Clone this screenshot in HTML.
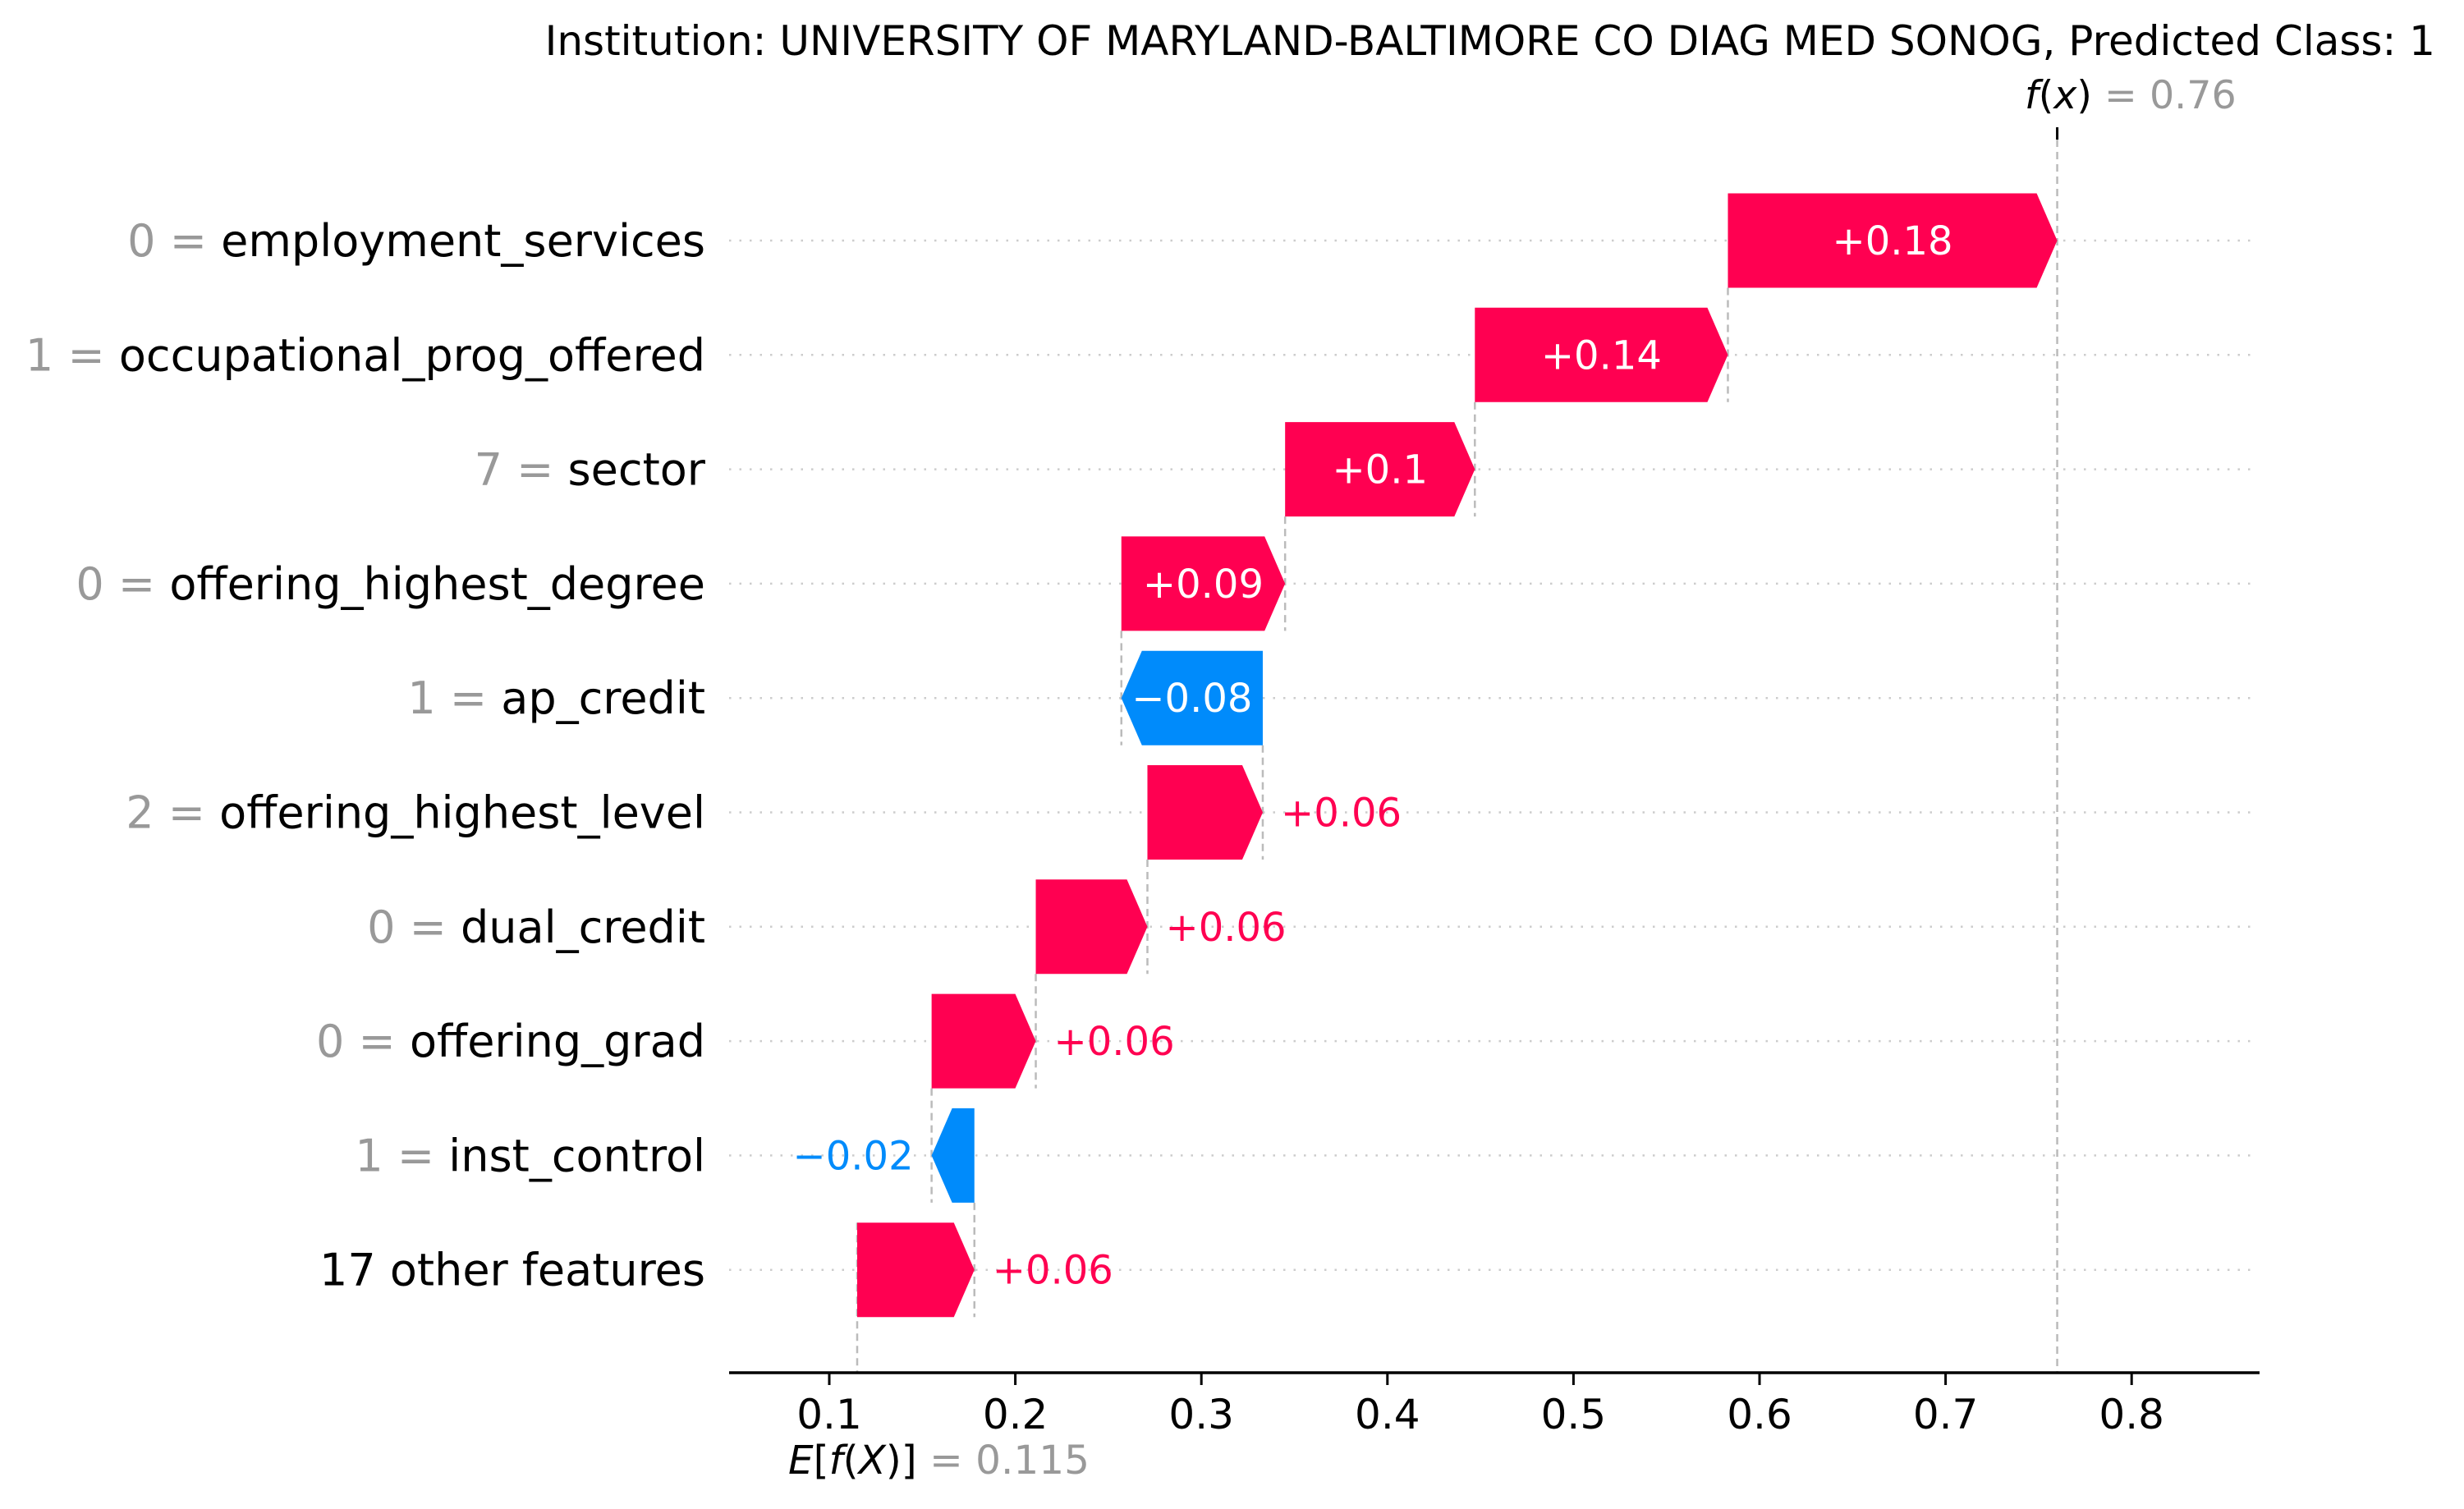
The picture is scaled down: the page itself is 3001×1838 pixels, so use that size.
<!DOCTYPE html>
<html><head><meta charset="utf-8"><style>
html,body{margin:0;padding:0;background:#fff;}
svg{display:block;font-family:"DejaVu Sans","Liberation Sans",sans-serif;}
</style></head><body>
<svg id="chart" width="3001" height="1838" viewBox="0 0 3001 1838" xmlns="http://www.w3.org/2000/svg">
<text x="2966" y="67" font-size="50" text-anchor="end" fill="#000">Institution: UNIVERSITY OF MARYLAND-BALTIMORE CO DIAG MED SONOG, Predicted Class: 1</text>
<text x="2466" y="132" font-size="47.5" fill="#000"><tspan font-style="italic">f</tspan>(<tspan font-style="italic">x</tspan>) <tspan fill="#999">= 0.76</tspan></text>
<text x="960" y="1795" font-size="48.5" fill="#000"><tspan font-style="italic">E</tspan>[<tspan font-style="italic">f</tspan>(<tspan font-style="italic">X</tspan>)] <tspan fill="#999">= 0.115</tspan></text>
<g id="grid"></g><g id="conn"></g><g id="bars"></g><g id="ylabels"></g><g id="axis"></g>
</svg>
<script>
const featureValues = ["0","1","7","0","1","2","0","0","1",""];
const featureNames = ["employment_services","occupational_prog_offered","sector","offering_highest_degree","ap_credit","offering_highest_level","dual_credit","offering_grad","inst_control","17 other features"];
const shapValues = [0.177,0.136,0.102,0.088,-0.076,0.062,0.060,0.056,-0.023,0.063];
const valueLabels = ["+0.18","+0.14","+0.1","+0.09","\u22120.08","+0.06","+0.06","+0.06","\u22120.02","+0.06"];
const baseValue = 0.115;
const fxValue = 0.76;
const xTicks = [0.1,0.2,0.3,0.4,0.5,0.6,0.7,0.8];
const xTickLabels = ["0.1","0.2","0.3","0.4","0.5","0.6","0.7","0.8"];

const NS="http://www.w3.org/2000/svg";
const X = v => 1010 + (v-0.1)*2266;
const rowY = i => 293 + i*139.3;
const H = 115, HEAD = 25, AXY = 1672;
const PINK="#ff0051", BLUE="#008bfb";
function mk(tag, attrs, parent){const e=document.createElementNS(NS,tag);for(const k in attrs)e.setAttribute(k,attrs[k]);parent.appendChild(e);return e;}
const grid=document.getElementById('grid'),conn=document.getElementById('conn'),bars=document.getElementById('bars'),yl=document.getElementById('ylabels'),ax=document.getElementById('axis');

const n = shapValues.length;
const starts = new Array(n), ends = new Array(n);
let cur = baseValue;
for(let i=n-1;i>=0;i--){starts[i]=cur;cur+=shapValues[i];ends[i]=cur;}

for(let i=0;i<n;i++){
  const y=rowY(i);
  const g=mk('line',{x1:888,x2:2750,y1:y,y2:y,stroke:'#ccc','stroke-width':2.5,'stroke-dasharray':'2.5 10'},grid);
  
  
  const t=mk('text',{x:859,y:y+19,'font-size':54,'text-anchor':'end',fill:'#000'},yl);
  
  
  if(featureValues[i]!==""){const s=mk('tspan',{fill:'#999'},t);s.textContent=featureValues[i]+" = ";}
  const s2=mk('tspan',{},t);s2.textContent=featureNames[i];
  const v=shapValues[i], x0=X(starts[i]), x1=X(ends[i]), top=y-H/2, bot=y+H/2;
  const w=Math.abs(x1-x0), hd=Math.min(HEAD,w);
  let pts;
  if(v>=0){pts=[[x0,top],[x1-hd,top],[x1,y],[x1-hd,bot],[x0,bot]];}
  else{pts=[[x0,top],[x1+hd,top],[x1,y],[x1+hd,bot],[x0,bot]];}
  const p=mk('polygon',{points:pts.map(q=>q.join(',')).join(' '),fill:v>=0?PINK:BLUE},bars);
  
  
  const inside = w>160;
  let lx,anchor,col;
  if(inside){lx=(x0+x1)/2;anchor='middle';col='#fff';}
  else if(v>=0){lx=x1+22;anchor='start';col=PINK;}
  else{lx=x1-22;anchor='end';col=BLUE;}
  const lt=mk('text',{x:lx,y:y+17,'font-size':48,'text-anchor':anchor,fill:col},bars);
  
  
  lt.textContent=valueLabels[i];
  if(i<n-1){
    const c=mk('line',{x1:x0,x2:x0,y1:bot,y2:rowY(i+1)+H/2,stroke:'#bbb','stroke-width':2.5,'stroke-dasharray':'9 6'},conn);
    
    
  }
}
let bl=mk('line',{x1:X(baseValue),x2:X(baseValue),y1:rowY(n-1)-H/2,y2:AXY,stroke:'#bbb','stroke-width':2.5,'stroke-dasharray':'9 6'},conn);


let fl=mk('line',{x1:X(fxValue),x2:X(fxValue),y1:170,y2:AXY,stroke:'#bbb','stroke-width':2.5,'stroke-dasharray':'9 6'},conn);


let ft=mk('line',{x1:X(fxValue),x2:X(fxValue),y1:155,y2:170,stroke:'#000','stroke-width':3},conn);


let al=mk('line',{x1:888,x2:2752,y1:AXY,y2:AXY,stroke:'#000','stroke-width':3.5},ax);


xTicks.forEach((v,k)=>{
  const tk=mk('line',{x1:X(v),x2:X(v),y1:AXY,y2:AXY+15,stroke:'#000','stroke-width':3},ax);
  
  
  const tl=mk('text',{x:X(v),y:AXY+68,'font-size':50,'text-anchor':'middle',fill:'#000'},ax);
  
  
  tl.textContent=xTickLabels[k];
});
</script>
</body></html>
